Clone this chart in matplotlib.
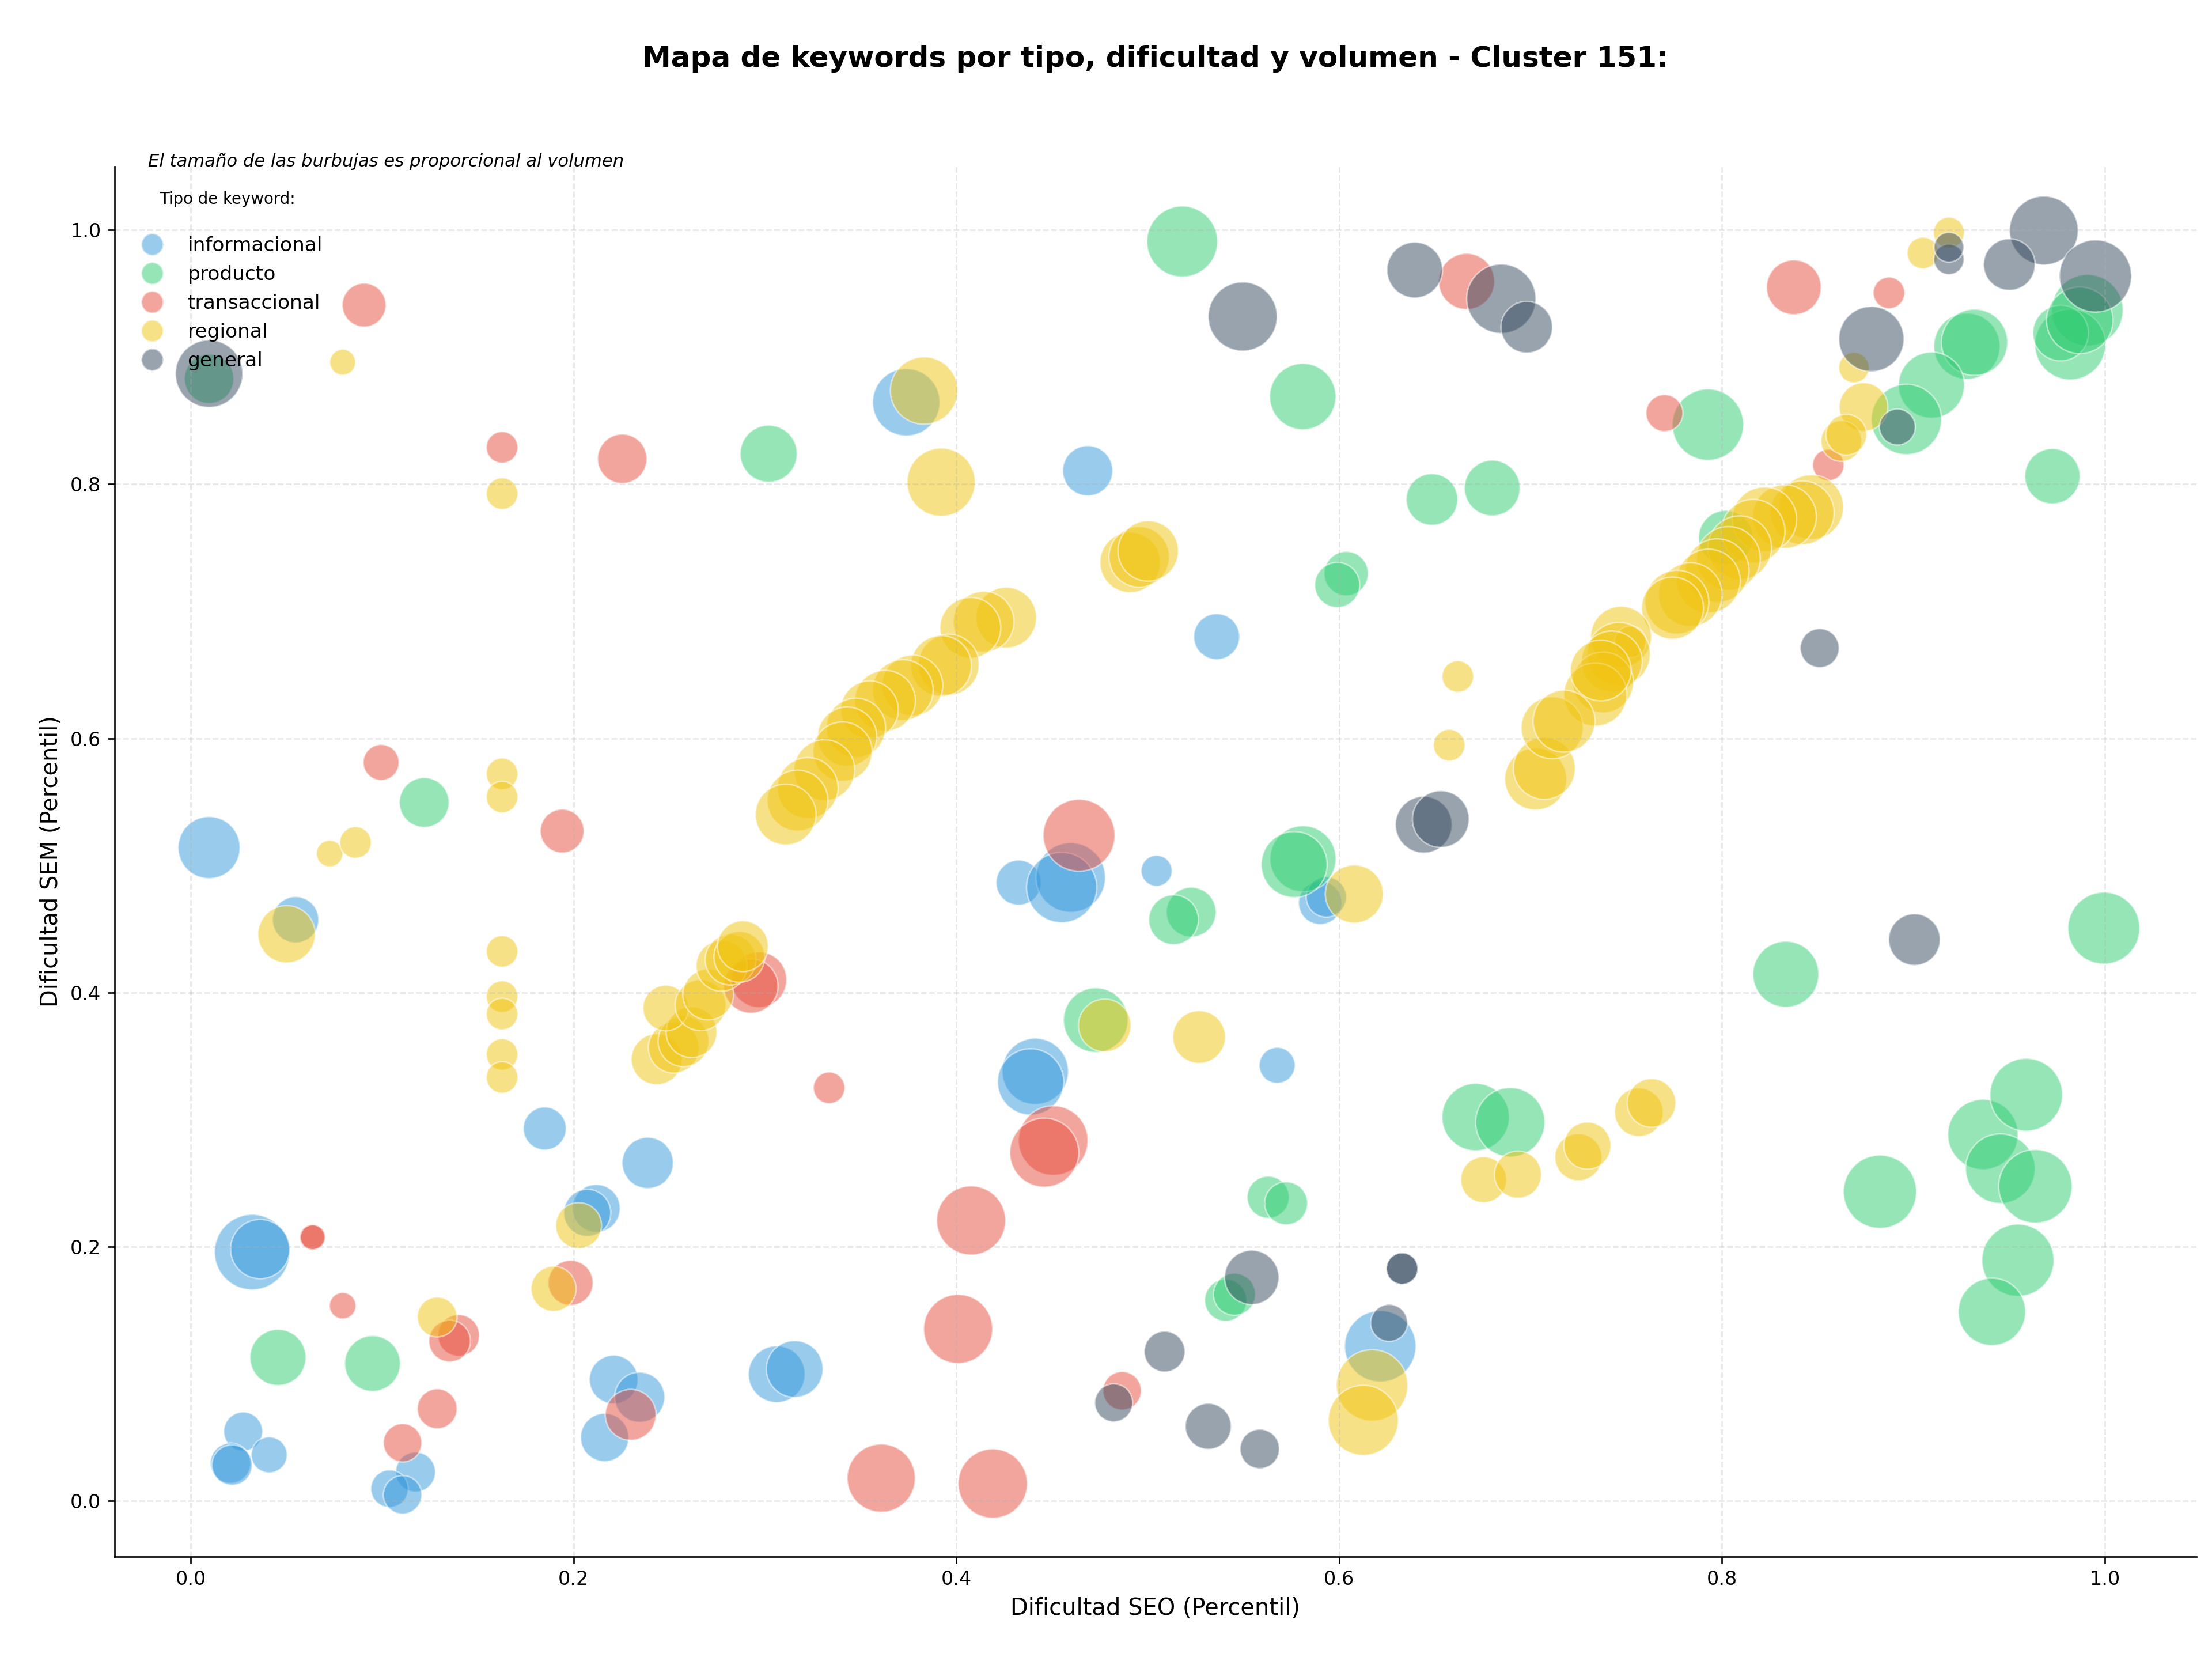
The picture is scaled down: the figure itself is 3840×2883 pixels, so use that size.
import matplotlib
matplotlib.use('Agg')
import matplotlib.pyplot as plt
from matplotlib.lines import Line2D

# Dificultad SEO / SEM (percentil) y volumen relativo por tipo de keyword
info_x = [0.0095, 0.0547, 0.032, 0.0362, 0.1849, 0.2387, 0.2118, 0.2071, 0.2209, 0.2345, 0.2162,
          0.3061, 0.3155, 0.1174, 0.1038, 0.1106, 0.0273, 0.0409, 0.0207, 0.0215, 0.3738, 0.4686,
          0.536, 0.4325, 0.4597, 0.455, 0.5046, 0.5901, 0.5933, 0.5676, 0.4412, 0.4388, 0.6215]
info_y = [0.514, 0.4572, 0.1956, 0.198, 0.2929, 0.2658, 0.230, 0.2265, 0.0953, 0.0814, 0.0497,
          0.0995, 0.1036, 0.0225, 0.0094, 0.0046, 0.0544, 0.036, 0.0295, 0.028, 0.8645, 0.8106,
          0.680, 0.4864, 0.4905, 0.4826, 0.4957, 0.4705, 0.4751, 0.3426, 0.3379, 0.3296, 0.1215]
info_vol = [104, 58, 154, 95, 50, 71, 62, 60, 64, 68, 63,
            87, 87, 43, 38, 40, 41, 35, 44, 44, 123, 68,
            57, 55, 131, 134, 26, 51, 44, 35, 119, 119, 138]

prod_x = [0.0095, 0.3019, 0.518, 0.581, 0.6037, 0.599, 0.6485, 0.680, 0.991, 0.982, 0.977,
          0.987, 0.928, 0.932, 0.9095, 0.8964, 0.7927, 0.9727, 0.802, 0.1219, 0.5227, 0.5135,
          0.5811, 0.5765, 0.4728, 0.6713, 0.6894, 0.5629, 0.5723, 0.5407, 0.5453, 0.8334,
          0.9996, 0.8826, 0.9364, 0.959, 0.9455, 0.9638, 0.9547, 0.9411, 0.0455, 0.0949]
prod_y = [0.883, 0.824, 0.991, 0.869, 0.7297, 0.7207, 0.788, 0.797, 0.937, 0.910, 0.919,
          0.929, 0.9086, 0.9117, 0.878, 0.851, 0.8469, 0.8063, 0.758, 0.5495, 0.4632, 0.4572,
          0.5052, 0.5007, 0.3782, 0.3019, 0.2978, 0.2388, 0.234, 0.1577, 0.1624, 0.4143,
          0.4506, 0.2431, 0.2882, 0.3195, 0.2613, 0.2474, 0.1892, 0.1486, 0.1127, 0.1079]
prod_vol = [66, 88, 136, 119, 53, 55, 72, 84, 138, 136, 84,
            120, 119, 119, 118, 134, 138, 83, 80, 67, 67, 67,
            118, 118, 113, 123, 130, 48, 50, 48, 48, 118,
            140, 145, 134, 143, 131, 146, 141, 123, 85, 84]

trans_x = [0.0905, 0.1626, 0.2254, 0.0994, 0.194, 0.2968, 0.2926, 0.3335, 0.4641, 0.6666,
           0.8376, 0.8873, 0.770, 0.8556, 0.4506, 0.4459, 0.4077, 0.4009, 0.3607, 0.419,
           0.4866, 0.1984, 0.0633, 0.0637, 0.0793, 0.1399, 0.1352, 0.1287, 0.1106, 0.2298]
trans_y = [0.941, 0.829, 0.820, 0.581, 0.527, 0.410, 0.405, 0.3249, 0.5237, 0.9596,
           0.955, 0.9506, 0.856, 0.8151, 0.2834, 0.2739, 0.2205, 0.1351, 0.0177, 0.0134,
           0.0865, 0.1714, 0.2073, 0.2073, 0.1534, 0.130, 0.1256, 0.0723, 0.0455, 0.0675]
trans_vol = [52, 27, 66, 35, 52, 84, 80, 27, 140, 85,
             81, 27, 37, 27, 131, 129, 129, 129, 126, 130,
             40, 55, 17, 17, 19, 47, 47, 43, 40, 70]

reg_x = [0.0793, 0.1626, 0.3831, 0.392, 0.4908, 0.4955, 0.5002, 0.9186, 0.905, 0.869, 0.874,
         0.8624, 0.865, 0.8467, 0.842, 0.8327, 0.8222, 0.8163, 0.8093, 0.8034, 0.7975, 0.793,
         0.7835, 0.7765, 0.7742, 0.7473, 0.7522, 0.7461, 0.7425, 0.7379, 0.7339, 0.7027,
         0.7072, 0.7113, 0.7175, 0.7367, 0.662, 0.6575, 0.6079, 0.4775, 0.5268, 0.6755,
         0.6934, 0.725, 0.7297, 0.7566, 0.7632, 0.6172, 0.6126, 0.426, 0.4142, 0.4073,
         0.396, 0.392, 0.377, 0.372, 0.3627, 0.3546, 0.3475, 0.3429, 0.3405, 0.331, 0.3223,
         0.317, 0.3108, 0.1626, 0.1626, 0.0725, 0.086, 0.050, 0.1626, 0.1626, 0.1626, 0.1626,
         0.1626, 0.2434, 0.2523, 0.2574, 0.2616, 0.2481, 0.2663, 0.2703, 0.2773, 0.282,
         0.2866, 0.2884, 0.2026, 0.1895, 0.1287]
reg_y = [0.896, 0.7926, 0.8737, 0.8016, 0.7385, 0.7428, 0.7475, 0.998, 0.982, 0.8918, 0.8608,
         0.834, 0.839, 0.782, 0.7775, 0.7745, 0.7724, 0.763, 0.750, 0.7416, 0.732, 0.7238,
         0.7131, 0.7072, 0.7025, 0.680, 0.676, 0.6664, 0.6605, 0.644, 0.6345, 0.568,
         0.5763, 0.6083, 0.6135, 0.6534, 0.6487, 0.5946, 0.4775, 0.374, 0.3649, 0.2526,
         0.2566, 0.2703, 0.2794, 0.3057, 0.313, 0.0907, 0.0632, 0.695, 0.6918, 0.687,
         0.658, 0.657, 0.6416, 0.638, 0.6296, 0.6225, 0.6083, 0.6013, 0.5896, 0.575, 0.5609,
         0.551, 0.540, 0.572, 0.5538, 0.5093, 0.518, 0.4458, 0.4323, 0.3967, 0.383, 0.3512,
         0.3331, 0.3474, 0.3565, 0.3616, 0.3687, 0.3877, 0.390, 0.3984, 0.421, 0.4258,
         0.428, 0.4364, 0.2165, 0.1667, 0.1445]
reg_vol = [18, 27, 123, 126, 99, 99, 99, 26, 27, 25, 64,
           45, 45, 113, 110, 110, 113, 110, 110, 110, 110, 110,
           110, 110, 104, 100, 27, 108, 100, 100, 108, 104,
           104, 104, 104, 100, 27, 27, 91, 75, 75, 57,
           60, 60, 60, 64, 64, 138, 133, 100, 100, 100,
           100, 100, 100, 100, 100, 90, 95, 95, 95, 100, 100,
           100, 100, 27, 27, 19, 27, 89, 27, 27, 27, 27,
           27, 70, 70, 70, 70, 56, 70, 70, 70, 70,
           70, 70, 57, 55, 43]

gen_x = [0.0095, 0.5496, 0.6395, 0.6847, 0.698, 0.9682, 0.9502, 0.9952, 0.9186, 0.9186, 0.8781,
         0.8917, 0.8511, 0.9006, 0.6442, 0.6531, 0.5543, 0.5088, 0.4822, 0.5316, 0.5585,
         0.6329, 0.6329, 0.6261]
gen_y = [0.887, 0.932, 0.9686, 0.946, 0.9236, 0.9997, 0.9729, 0.9639, 0.977, 0.9865, 0.9143,
         0.845, 0.671, 0.4416, 0.532, 0.5364, 0.1757, 0.1173, 0.077, 0.0585, 0.0407,
         0.1826, 0.1826, 0.1399]
gen_vol = [123, 129, 84, 130, 72, 128, 72, 141, 25, 24, 115,
           35, 41, 72, 87, 87, 80, 45, 39, 57, 42,
           27, 27, 37]

tipos = ['informacional', 'producto', 'transaccional', 'regional', 'general']
colores = ['#3498db', '#2ecc71', '#e74c3c', '#f1c40f', '#34495e']
series = [(info_x, info_y, info_vol), (prod_x, prod_y, prod_vol), (trans_x, trans_y, trans_vol),
          (reg_x, reg_y, reg_vol), (gen_x, gen_y, gen_vol)]

fig = plt.figure(figsize=(16, 12.0125), dpi=240)
ax = fig.add_axes([0.0517, 0.0629, 0.9413, 0.8368])

for (xs, ys, vol), color in zip(series, colores):
    ax.scatter(xs, ys, s=[v * 10 for v in vol], c=color, alpha=0.5,
               edgecolors='white', linewidths=0.8)

ax.set_xlim(-0.04, 1.048)
ax.set_ylim(-0.044, 1.05)
ax.set_xlabel('Dificultad SEO (Percentil)', fontsize=12)
ax.set_ylabel('Dificultad SEM (Percentil)', fontsize=12)
ax.set_title('Mapa de keywords por tipo, dificultad y volumen - Cluster 151:',
             fontsize=15, fontweight='bold', pad=52)
ax.grid(True, linestyle='--', alpha=0.3)
ax.spines['top'].set_visible(False)
ax.spines['right'].set_visible(False)

handles = [Line2D([0], [0], marker='o', linestyle='', markersize=11.5, markerfacecolor=c,
                  markeredgecolor='white', alpha=0.5) for c in colores]
ax.legend(handles, tipos, title='Tipo de keyword:\n', loc='upper left', frameon=False,
          fontsize=10.3, title_fontsize=8.3, bbox_to_anchor=(0, 0.995))
ax.text(0.0163, 1.004, 'El tamaño de las burbujas es proporcional al volumen',
        transform=ax.transAxes, fontsize=9.2, style='italic', va='center')

plt.savefig('out.png')
